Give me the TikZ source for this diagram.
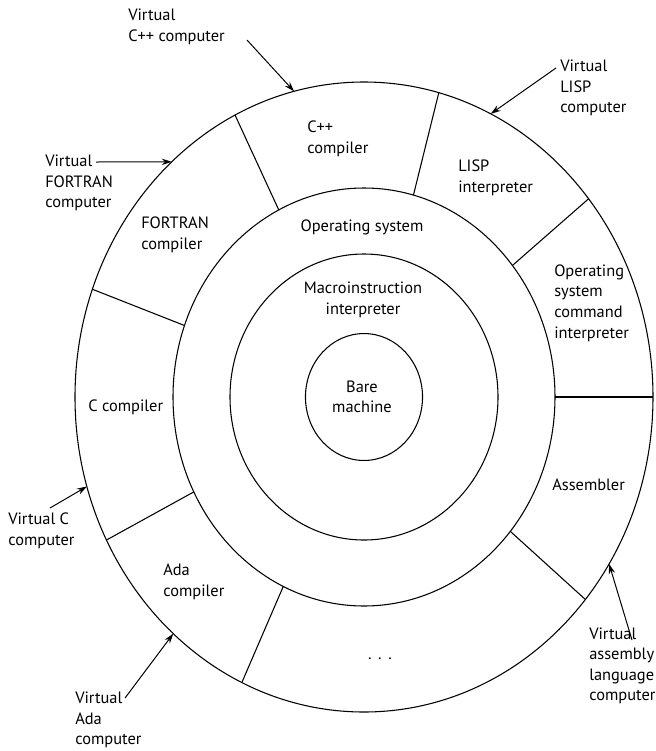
\documentclass[tikz,border=0pt]{standalone}
\usepackage{fontspec}
\setmainfont{PT Sans}
\usetikzlibrary{arrows.meta,calc}
\begin{document}
\begin{tikzpicture}[x=0.75pt,y=-0.75pt,
  ring/.style={line width=0.8pt},
  divider/.style={line width=0.8pt},
  lbl/.style={inner sep=0pt, align=left, anchor=west, font=\fontsize{12.3}{15.4}\selectfont},
  clbl/.style={inner sep=0pt, align=center, font=\fontsize{12.3}{15.4}\selectfont},
  pointer/.style={line width=0.75pt, -{Stealth[length=7.5pt,width=4.8pt]}}]
\useasboundingbox (0,0) rectangle (656,751);
\coordinate (C) at (364,397);
% rings
\draw[ring] (C) ellipse [x radius=216.75pt, y radius=236.25pt];
\draw[ring] (C) ellipse [x radius=143.25pt, y radius=156.75pt];
\draw[ring] (C) ellipse [x radius=100.5pt, y radius=107.25pt];
\draw[ring] (C) ellipse [x radius=43.9pt, y radius=47.6pt];
% dividers between outer and middle ring
\foreach \t/\n in {0/a,39/b,75/c,116.5/d,160/e,207/f,245/g,320/h}{
  \coordinate (o\n) at ($(C)+({289*cos(\t)},{-315*sin(\t)})$);
  \coordinate (m\n) at ($(C)+({191*cos(\t)},{-209*sin(\t)})$);
  \draw[divider] (m\n) -- (o\n);
}
% texts inside
\node[lbl] (cpp) at (307,139) {C++\\compiler};
\node[lbl] (lisp) at (458,178) {LISP\\interpreter};
\node[lbl] (fortran) at (141,235) {FORTRAN\\compiler};
\node[clbl] (os) at (362,227) {Operating system};
\node[clbl] (macro) at (363,300) {Macroinstruction\\interpreter};
\node[clbl] (bare) at (362,397) {Bare\\machine};
\node[lbl] (ccomp) at (88,407) {C compiler};
\node[lbl] (oscmd) at (554,303) {Operating\\system\\command\\interpreter};
\node[lbl] (asm) at (552,485) {Assembler};
\node[lbl] (ada) at (163,582) {Ada\\compiler};
\node[clbl] (dots) at (380,659) {.\hspace{5pt}.\hspace{5pt}.};
% outside labels
\node[lbl] (vcpp) at (128,27) {Virtual\\C++ computer};
\node[lbl] (vlisp) at (560,88) {Virtual\\LISP\\computer};
\node[lbl] (vfortran) at (45,183) {Virtual\\FORTRAN\\computer};
\node[lbl] (vc) at (8,531) {Virtual C\\computer};
\node[lbl] (vasm) at (589,666) {Virtual\\assembly\\language\\computer};
\node[lbl] (vada) at (75,720) {Virtual\\Ada\\computer};
% arrow tips on the outer ring
\foreach \t/\n in {104/cpp,64/lisp,131.7/fortran,196.5/c,228.7/ada,-32/asm}{
  \coordinate (tip\n) at ($(C)+({289*cos(\t)},{-315*sin(\t)})$);
}
\coordinate (scpp) at (247,40);
\coordinate (slisp) at (556,68);
\coordinate (sfortran) at (96,162);
\coordinate (sc) at (50,508);
\coordinate (sada) at (125,698);
\coordinate (sasm) at (632,640);
\draw[pointer] (scpp) -- (tipcpp);
\draw[pointer] (slisp) -- (tiplisp);
\draw[pointer] (sfortran) -- (tipfortran);
\draw[pointer] (sc) -- (tipc);
\draw[pointer] (sada) -- (tipada);
\draw[pointer] (sasm) -- (tipasm);
\end{tikzpicture}
\end{document}
